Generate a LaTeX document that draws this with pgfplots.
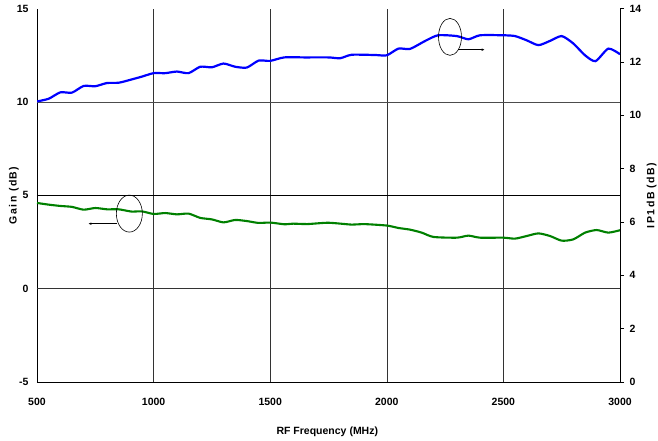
\documentclass[border=0pt]{standalone}
\usepackage{pgfplots}
\pgfplotsset{compat=1.18}
\usepackage{pgfplotstable}
\usepackage{fontspec}
\setmainfont{Liberation Sans}
\newfontfamily\spaced{Liberation Sans}[LetterSpace=14]
\usetikzlibrary{arrows.meta}

% gain (dB), left axis
\pgfplotstableread{
f g
500 4.59
550 4.50
600 4.43
650 4.38
700 4.23
750 4.32
800 4.25
850 4.25
905 4.13
950 4.14
1000 4.00
1050 4.05
1100 3.98
1150 4.02
1200 3.79
1250 3.71
1300 3.55
1350 3.68
1400 3.62
1450 3.52
1500 3.54
1560 3.45
1600 3.48
1660 3.46
1750 3.53
1850 3.43
1900 3.46
2000 3.38
2050 3.25
2100 3.16
2150 3.00
2200 2.77
2300 2.73
2350 2.84
2400 2.73
2500 2.73
2550 2.68
2600 2.82
2650 2.96
2700 2.82
2750 2.57
2800 2.64
2850 3.00
2900 3.14
2950 3.00
3000 3.13
}\gaintab

% IP1dB (dB), right axis
\pgfplotstableread{
f p
500 10.52
550 10.62
600 10.86
650 10.85
700 11.10
750 11.09
800 11.21
850 11.22
900 11.33
950 11.45
1000 11.58
1050 11.58
1100 11.64
1150 11.58
1200 11.82
1250 11.80
1300 11.94
1350 11.82
1400 11.79
1450 12.05
1500 12.04
1560 12.17
1650 12.17
1750 12.17
1800 12.14
1850 12.27
1950 12.26
2000 12.25
2050 12.50
2100 12.49
2165 12.79
2220 13.00
2300 12.97
2350 12.85
2400 13.00
2500 13.00
2550 12.97
2600 12.81
2650 12.63
2700 12.79
2750 12.97
2800 12.69
2850 12.25
2895 12.03
2950 12.50
3000 12.29
}\iptab

\pgfplotsset{
  base/.style={
    width=583pt, height=373.4pt, scale only axis,
    xmin=500, xmax=3000,
    /pgf/number format/assume math mode=true,
    /pgf/number format/1000 sep={},
    tick label style={font=\bfseries\fontsize{10.5}{12}\selectfont},
    axis line style={black, line width=0.8pt, -},
  },
}

\begin{document}
\begin{tikzpicture}
\useasboundingbox (-37pt,-58.3pt) rectangle (621pt,382pt);

\begin{axis}[base,
  ymin=-5, ymax=15,
  xtick={500,1000,...,3000}, ytick={-5,0,...,15},
  axis x line*=bottom, axis y line*=left,
  xmajorgrids, major grid style={black!80, line width=0.6pt},
  major tick length=0pt,
  xticklabel style={yshift=-13pt},
  yticklabel style={xshift=-5pt},
  xlabel={\bfseries RF Frequency (MHz)},
  xlabel style={at={(axis description cs:0.498,-0.134)}, anchor=center,
    font=\fontsize{10.5}{12}\selectfont},
  ylabel={\spaced\bfseries Gain (dB)},
  ylabel style={at={(axis description cs:-0.0395,0.5)}, anchor=center,
    font=\fontsize{10.5}{12}\selectfont},
]
\draw[black!80, line width=0.6pt] (axis cs:500,0) -- (axis cs:3000,0);
\draw[black, line width=0.6pt] (axis cs:500,5) -- (axis cs:3000,5);
\draw[black!70, line width=0.6pt] (axis cs:500,10) -- (axis cs:3000,10);
\addplot[color={rgb,255:red,0;green,128;blue,0}, line width=2.1pt, smooth, tension=0.4] table[x=f, y=g] {\gaintab};
\draw[black, line width=0.6pt] (axis cs:896,4.02) ellipse [x radius=13pt, y radius=18.5pt];
\draw[black, line width=0.6pt, -{Latex[length=3pt,width=2.5pt]}] (axis cs:842,3.48) -- (axis cs:720,3.48);
\end{axis}

\begin{axis}[base,
  ymin=0, ymax=14,
  ytick={0,2,...,14},
  axis x line=none, axis y line*=right,
  tick align=outside, major tick length=4pt,
  ytick style={black, line width=0.6pt},
  yticklabel style={xshift=2pt},
  ylabel={\spaced\bfseries IP1dB (dB)},
  ylabel style={at={(axis description cs:1.0544,0.5)}, anchor=center, rotate=0,
    font=\fontsize{10.5}{12}\selectfont},
]
\addplot[color={rgb,255:red,0;green,0;blue,255}, line width=2.2pt, smooth, tension=0.4] table[x=f, y=p] {\iptab};
\draw[black, line width=0.6pt] (axis cs:2271,12.94) ellipse [x radius=11.5pt, y radius=18.5pt];
\draw[black, line width=0.6pt, -{Latex[length=3pt,width=2.5pt]}] (axis cs:2307,12.46) -- (axis cs:2420,12.46);
\end{axis}
\end{tikzpicture}
\end{document}
